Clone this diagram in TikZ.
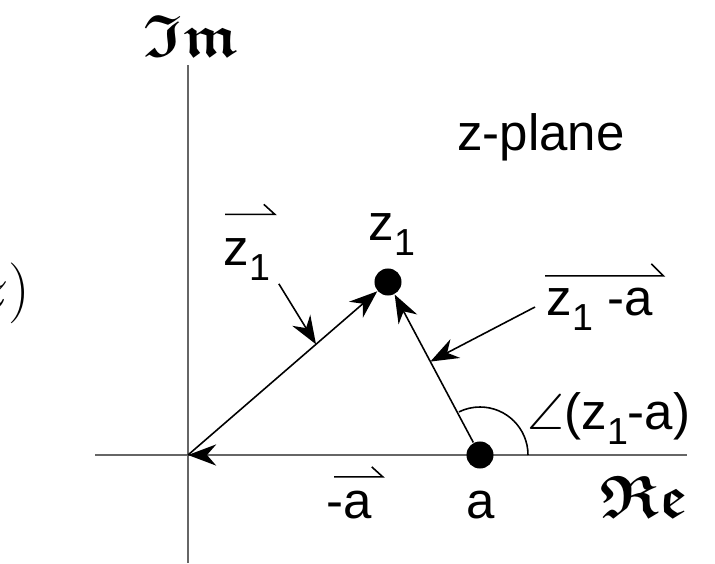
\documentclass[tikz,border=0pt]{standalone}
\usepackage{amssymb}
\usepackage{fontspec}
\setmainfont{Liberation Sans}
\usetikzlibrary{arrows.meta, calc}

% lowered subscript one, as in the labels
\newcommand{\subone}{\raisebox{-4.3pt}{\fontsize{10.7}{12}\selectfont 1}}

\begin{document}
\begin{tikzpicture}[
    x=0.01cm, y=0.01cm,
    >={Stealth[length=8pt, width=6pt]},
    every node/.style={font=\fontsize{14.5}{17}\selectfont, inner sep=0pt},
    axis/.style={draw=black!60, line width=0.6pt},
    vector/.style={->, line width=0.45pt},
    harpoon/.style={line width=0.45pt},
    dot/.style={circle, fill=black, minimum size=0.27cm},
    axis label/.style={font=\fontsize{17}{17}\selectfont\boldmath}
]
\useasboundingbox (0,0) rectangle (715,563);

% Axes
\coordinate (O)    at (188,108);
\coordinate (ybot) at (188,0);
\coordinate (ytop) at (188,498);
\coordinate (xlft) at (95,108);
\coordinate (xrgt) at (687,108);
\draw[axis] (ybot) -- (ytop);
\draw[axis] (xlft) -- (xrgt);

\node[axis label] (imlbl) at (191,527) {$\mathfrak{Im}$};
\node[axis label] (relbl) at (644,66)  {$\mathfrak{Re}$};
\node[anchor=east, font=\fontsize{16}{16}\selectfont] (fz) at (31,270) {$z)$};

% Points
\node[dot] (z1) at (388,281) {};
\node[dot] (a)  at (480,108) {};

% Vectors
\draw[vector] (O) -- (z1);
\draw[vector] (a) -- (z1);
\draw[axis, -{Stealth[length=8pt, width=6pt, color=black]}] (a) -- (O);

% Angle of z1 - a
\draw[harpoon] ([shift={(48,0)}]a.center) arc[start angle=0, end angle=116, radius=48];

% Labels
\node (zplane) at (541,426) {z-plane};
\node[anchor=base west] (z1lbl) at (368,323) {z\subone};
\node[anchor=base west] (vz1)   at (223,298) {z\subone};
\node[anchor=base west] (vdiff) at (546,248) {z\subone{} -a};
\node[anchor=base west] (ang)   at (527,134) {$\angle$(z\subone-a)};
\node[anchor=base west] (vneg)  at (326,45)  {-a};
\node[anchor=base]      (albl)  at (481,45)  {a};

% Vector bars over the labels
\draw[harpoon] ([shift={(2,23)}]vz1.north west) -- ([shift={(4,23)}]vz1.north east) -- ++(-11,10);
\draw[harpoon] ([shift={(-1,11)}]vdiff.north west) -- ([shift={(10,11)}]vdiff.north east) -- ++(-12,12);
\draw[harpoon] ([shift={(8,13)}]vneg.north west) -- ([shift={(10,13)}]vneg.north east) -- ++(-11,10);

% Pointers to the vectors
\draw[vector] ([shift={(8,-3)}]vz1.south east) -- ($(O)!0.64!(z1)$);
\draw[vector] ([shift={(-11,8)}]vdiff.base west) -- ($(a)!0.54!(z1)$);

\end{tikzpicture}
\end{document}
